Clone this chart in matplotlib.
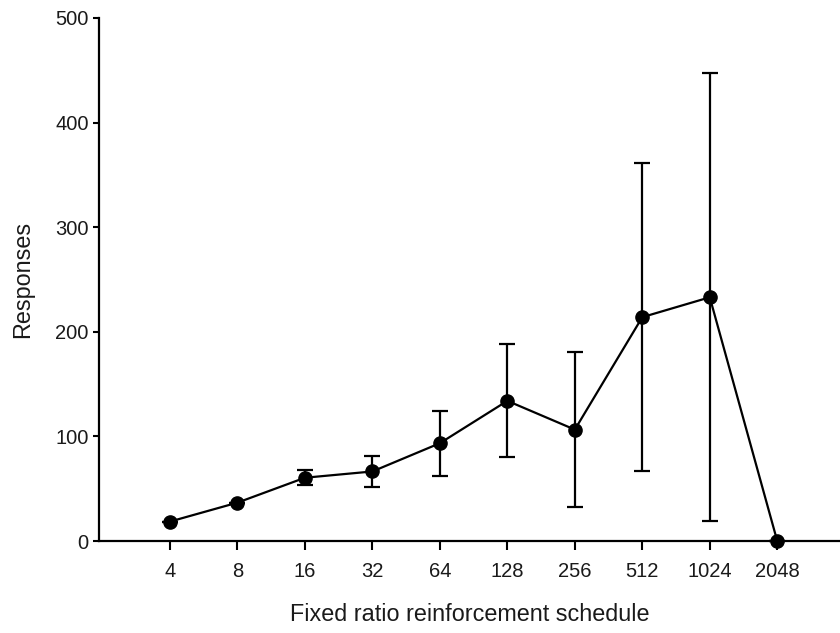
import matplotlib
matplotlib.use('Agg')
import matplotlib.pyplot as plt
import numpy as np

plt.rcParams['font.family'] = ['Liberation Sans', 'DejaVu Sans']

# data (mean +/- error)
schedules = ['4', '8', '16', '32', '64', '128', '256', '512', '1024', '2048']
responses = [18.6, 36.7, 60.5, 66.5, 93.5, 134, 106.5, 214, 233, 0]
errors = [0, 0, 7, 15, 31, 54, 74, 147, 214, 0]

fig = plt.figure(figsize=(8.4, 6.33), dpi=100)
ax = fig.add_axes([0.118, 0.1453, 0.882, 0.8263])

x = np.arange(len(schedules))
ax.errorbar(x, responses, yerr=errors, fmt='-o', color='black',
            lw=1.6, elinewidth=1.6, capsize=6, capthick=1.6,
            markersize=9.5, clip_on=False, zorder=3)

ax.set_xlim(-1.05, 9.93)
ax.set_ylim(0, 500)
ax.set_yticks([0, 100, 200, 300, 400, 500])
ax.set_xticks(x)
ax.set_xticklabels(schedules)

for s in ['top', 'right']:
    ax.spines[s].set_visible(False)
for s in ['left', 'bottom']:
    ax.spines[s].set_linewidth(1.6)

ax.tick_params(axis='x', direction='out', length=6.5, width=1.5,
               labelsize=14.5, labelcolor='#1a1a1a', pad=8.5)
ax.tick_params(axis='y', direction='out', length=4.5, width=1.5,
               labelsize=14.5, labelcolor='#1a1a1a', pad=3)

ax.set_xlabel('Fixed ratio reinforcement schedule', fontsize=16.8, labelpad=16,
              color='#1a1a1a')
ax.set_ylabel('Responses', fontsize=16.8, labelpad=15.5, color='#1a1a1a')

fig.savefig('out.png', dpi=100)
